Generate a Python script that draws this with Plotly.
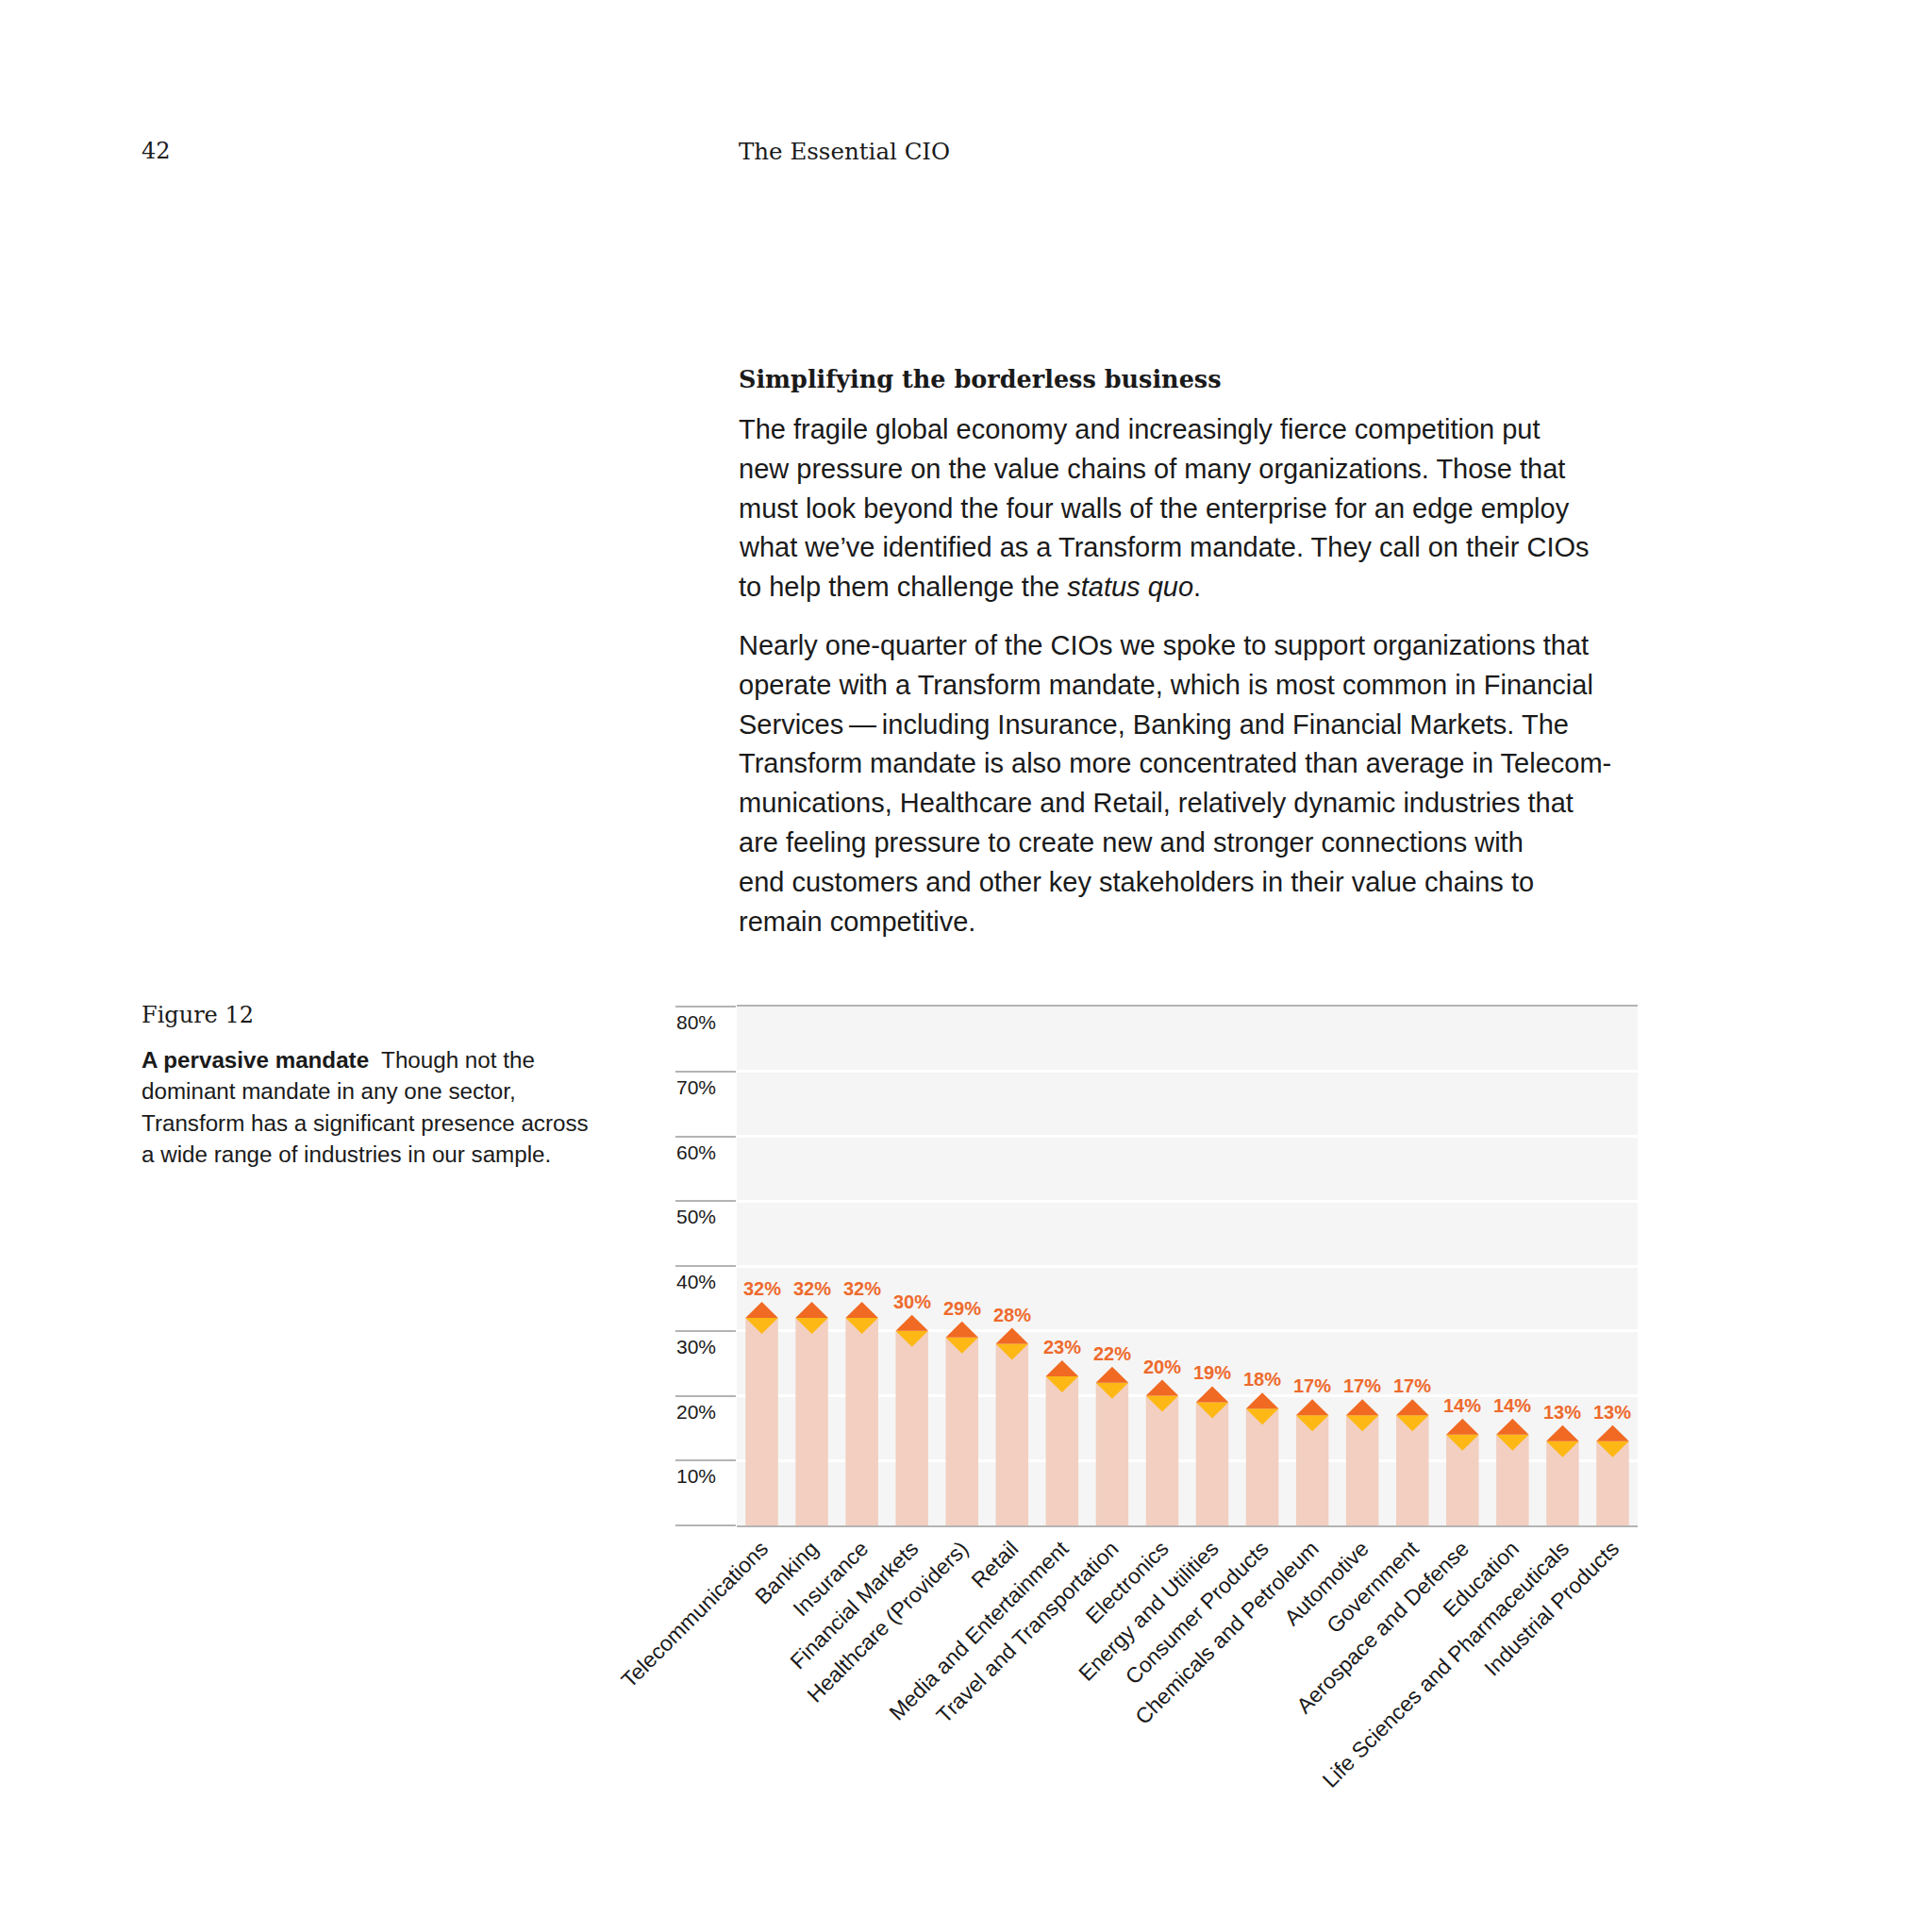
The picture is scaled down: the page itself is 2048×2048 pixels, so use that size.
import plotly.graph_objects as go

# ---------------- data ----------------
categories = [
    "Telecommunications", "Banking", "Insurance", "Financial Markets",
    "Healthcare (Providers)", "Retail", "Media and Entertainment",
    "Travel and Transportation", "Electronics", "Energy and Utilities",
    "Consumer Products", "Chemicals and Petroleum", "Automotive",
    "Government", "Aerospace and Defense", "Education",
    "Life Sciences and Pharmaceuticals", "Industrial Products",
]
values = [32, 32, 32, 30, 29, 28, 23, 22, 20, 19, 18, 17, 17, 17, 14, 14, 13, 13]
y_tick_values = [0, 10, 20, 30, 40, 50, 60, 70, 80]
y_tick_labels = ["10%", "20%", "30%", "40%", "50%", "60%", "70%", "80%"]

page_number = "42"
running_head = "The Essential CIO"
heading = "Simplifying the borderless business"
para1 = [
    "The fragile global economy and increasingly fierce competition put",
    "new pressure on the value chains of many organizations. Those that",
    "must look beyond the four walls of the enterprise for an edge employ",
    "what we\u2019ve identified as a Transform mandate. They call on their CIOs",
    "to help them challenge the <i>status quo</i>.",
]
para2 = [
    "Nearly one-quarter of the CIOs we spoke to support organizations that",
    "operate with a Transform mandate, which is most common in Financial",
    "Services\u2009\u2014\u2009including Insurance, Banking and Financial Markets. The",
    "Transform mandate is also more concentrated than average in Telecom-",
    "munications, Healthcare and Retail, relatively dynamic industries that",
    "are feeling pressure to create new and stronger connections with",
    "end customers and other key stakeholders in their value chains to",
    "remain competitive.",
]
figure_label = "Figure 12"
caption = [
    "<b>A pervasive mandate</b>  Though not the",
    "dominant mandate in any one sector,",
    "Transform has a significant presence across",
    "a wide range of industries in our sample.",
]

# ---------------- layout geometry ----------------
W = H = 2048
def fx(p):
    return p / W
def fy(p):
    return 1 - p / H

plot_left, plot_right, plot_top, plot_bottom = 781, 1736, 1067, 1617
y_max = 80
px_per_unit = (plot_bottom - plot_top) / y_max
half_h = 17 / px_per_unit          # diamond half height in data units
bar_w = 0.65
half_w = bar_w / 2

idx = list(range(len(categories)))

BAR = "#f2cfc0"
ORANGE = "#f06a24"
YELLOW = "#fdb815"
LABEL = "#ee6a2c"
TEXT = "#1a1a1a"
SANS = "Liberation Sans, Arial, sans-serif"
SERIF = "DejaVu Serif, serif"

fig = go.Figure()
fig.add_trace(go.Bar(x=idx, y=values, width=bar_w, marker=dict(color=BAR, line=dict(width=0)),
                     hoverinfo="skip", showlegend=False))

top_x, top_y, bot_x, bot_y = [], [], [], []
for i, v in zip(idx, values):
    top_x += [i - half_w, i + half_w, i, i - half_w, None]
    top_y += [v, v, v + half_h, v, None]
    bot_x += [i - half_w, i + half_w, i, i - half_w, None]
    bot_y += [v, v, v - half_h, v, None]

fig.add_trace(go.Scatter(x=bot_x, y=bot_y, fill="toself", fillcolor=YELLOW, mode="lines",
                         line=dict(width=0, color=YELLOW), hoverinfo="skip", showlegend=False))
fig.add_trace(go.Scatter(x=top_x, y=top_y, fill="toself", fillcolor=ORANGE, mode="lines",
                         line=dict(width=0, color=ORANGE), hoverinfo="skip", showlegend=False))

annotations = []
# value labels
for i, v in zip(idx, values):
    annotations.append(dict(x=i, y=v, xref="x", yref="y", text=f"{v}%", showarrow=False,
                            xanchor="center", yanchor="bottom", yshift=18,
                            font=dict(family=SANS, size=20, color=LABEL, weight="bold")))
# y tick labels hanging below their gridlines
for v, lab in zip(y_tick_values[1:], y_tick_labels):
    annotations.append(dict(x=fx(715), y=v, xref="paper", yref="y", text=lab, showarrow=False,
                            xanchor="left", yanchor="top", yshift=-3,
                            font=dict(family=SANS, size=21, color=TEXT)))

def txt(x, y, text, size, family=SANS, color=TEXT, **kw):
    annotations.append(dict(x=fx(x), y=fy(y), xref="paper", yref="paper", text=text,
                            showarrow=False, xanchor="left", yanchor="middle",
                            font=dict(family=family, size=size, color=color, **kw)))

txt(148, 160, page_number, 24, family=SERIF)
txt(781, 160, running_head, 24.5, family=SERIF)
txt(781, 402, heading, 25.5, family=SERIF, weight="bold")
for k, line in enumerate(para1):
    txt(781, 455 + k * 41.8, line, 29)
for k, line in enumerate(para2):
    txt(781, 684 + k * 41.8, line, 29)
txt(148, 1076, figure_label, 24, family=SERIF)
for k, line in enumerate(caption):
    txt(148, 1123 + k * 33.6, line, 24.2)

fig.update_layout(
    width=W, height=H,
    margin=dict(l=0, r=0, t=0, b=0, autoexpand=False),
    paper_bgcolor="white",
    plot_bgcolor="#f5f5f5",
    bargap=0.35,
    showlegend=False,
    annotations=annotations,
    xaxis=dict(domain=[fx(plot_left), fx(plot_right)], range=[-0.5, len(categories) - 0.5],
               tickmode="array", tickvals=idx, ticktext=categories, tickangle=-45,
               tickfont=dict(family=SANS, size=23, color=TEXT), automargin=False,
               showgrid=False, zeroline=False, showline=True, mirror=True,
               linecolor="#b4b4b4", linewidth=2, ticks=""),
    yaxis=dict(domain=[fy(plot_bottom), fy(plot_top)], range=[0, y_max],
               tickmode="array", tickvals=y_tick_values, showticklabels=False, automargin=False,
               ticks="outside", ticklen=plot_left - 717, tickcolor="#b4b4b4", tickwidth=2,
               showgrid=True, gridcolor="white", gridwidth=3, zeroline=False, showline=False),
)

fig.write_html("out.html", config={"displayModeBar": False},
               post_script="document.body.style.margin='0';document.documentElement.style.overflow='hidden';")
